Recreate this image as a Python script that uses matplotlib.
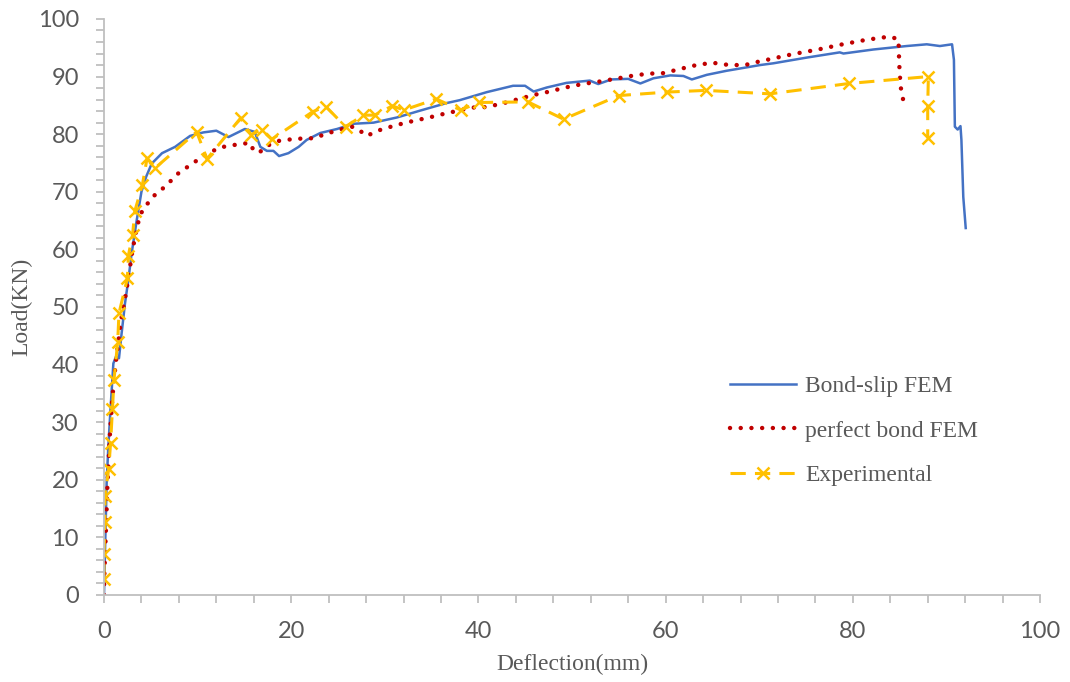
import numpy as np
import matplotlib
matplotlib.use('Agg')
import matplotlib.pyplot as plt
from matplotlib.ticker import MultipleLocator

# Bond-slip FEM (blue solid)
bs_x = [0.0, 0.07, 0.28, 0.46, 0.71, 1.0, 1.28, 1.6, 1.88, 2.24, 2.6, 2.95, 3.5,
        4.0, 4.5, 5.1, 6.2, 7.6, 9.2, 10.6, 12.0, 13.3, 15.05, 16.1, 16.7, 17.4,
        18.1, 18.7, 19.7, 20.8, 21.65, 23.1, 24.9, 26.6, 28.8, 31.3, 33.8, 36.6,
        38.0, 40.9, 43.7, 44.98, 45.9, 47.3, 49.4, 51.9, 52.8, 54.2, 56.0, 57.3,
        58.7, 60.5, 61.9, 62.8, 64.4, 66.5, 67.95, 70.1, 71.5, 75.1, 78.6, 79.0,
        82.2, 85.75, 87.9, 89.3, 90.6, 90.8, 90.9, 91.2, 91.5, 91.6, 91.8, 92.06]
bs_y = [0.0, 4.9, 19.4, 25.7, 32.7, 40.2, 41.4, 41.1, 45.4, 50.6, 54.7, 59.3, 65.1,
        70.0, 72.6, 74.9, 76.7, 77.8, 79.7, 80.3, 80.6, 79.5, 80.9, 80.4, 77.8, 77.1,
        77.1, 76.2, 76.7, 77.8, 79.0, 80.2, 80.9, 81.8, 82.0, 82.9, 84.1, 85.4,
        85.9, 87.3, 88.4, 88.4, 87.4, 88.1, 88.9, 89.3, 88.7, 89.5, 89.6, 88.8,
        89.7, 90.2, 90.1, 89.5, 90.3, 91.0, 91.4, 92.0, 92.3, 93.3, 94.2, 94.0,
        94.7, 95.3, 95.6, 95.3, 95.6, 92.9, 81.3, 80.8, 81.4, 79.0, 69.1, 63.7]

# perfect bond FEM (red dotted)
pb_x = [0.0, 0.02, 0.36, 0.64, 0.9, 1.25, 1.8, 2.4, 3.05, 3.56, 4.1, 5.26, 6.6,
        7.86, 9.26, 10.8, 12.4, 14.2, 15.6, 16.0, 16.6, 17.3, 18.8, 20.6, 22.4,
        24.0, 25.7, 26.6, 27.35, 28.05, 29.6, 31.3, 33.05, 34.75, 36.5, 38.2,
        39.1, 40.8, 42.5, 44.3, 45.9, 47.6, 49.3, 51.1, 52.8, 54.6, 56.3, 58.1,
        59.8, 61.5, 63.3, 65.0, 66.8, 68.5, 69.4, 71.1, 73.6, 76.3, 78.9, 81.5,
        83.3, 84.1, 84.9, 84.9, 85.0, 85.15, 85.5]
pb_y = [0.0, 2.6, 18.8, 28.1, 34.4, 40.2, 47.5, 52.9, 59.9, 64.2, 66.8, 69.2, 71.0,
        73.1, 74.7, 76.4, 77.7, 78.2, 78.5, 77.1, 76.8, 77.9, 78.9, 79.2, 79.3,
        80.2, 81.0, 81.3, 80.6, 79.7, 80.8, 81.6, 82.3, 82.9, 83.6, 84.2,
        84.6, 84.7, 85.3, 86.1, 86.8, 87.4, 88.1, 88.7, 89.1, 89.6, 90.1, 90.5,
        90.6, 91.3, 92.0, 92.4, 92.0, 92.0, 92.4, 93.0, 93.9, 94.7, 95.6, 96.4,
        96.8, 96.9, 96.4, 94.9, 90.6, 87.8, 84.95]

# Experimental (gold dashed with x markers)
ex_x = [0.0, 0.0, 0.1, 0.1, 0.5, 0.7, 0.9, 1.07, 1.46, 1.6, 2.5, 2.6, 3.05, 3.3,
        4.1, 4.6, 5.45, 9.9, 11.0, 14.6, 15.7, 16.85, 17.9, 22.3, 23.7, 25.8,
        27.7, 28.9, 30.8, 32.05, 35.5, 38.1, 40.06, 45.3, 49.1, 55.0, 60.1, 64.3,
        71.15, 79.6, 88.07, 88.0, 88.0]
ex_y = [2.8, 7.2, 12.6, 17.1, 21.9, 26.3, 32.2, 37.4, 43.9, 48.9, 55.0, 58.9, 62.5,
        66.7, 71.2, 75.8, 74.1, 80.4, 75.7, 82.8, 79.9, 80.8, 79.1, 83.9, 84.8, 81.3,
        83.3, 83.3, 84.9, 84.2, 86.1, 84.2, 85.5, 85.6, 82.6, 86.7, 87.3, 87.6,
        87.0, 88.8, 90.0, 84.9, 79.3]

gray = '#595959'
axis_gray = '#BFBFBF'

fig = plt.figure(figsize=(10.7, 6.82), dpi=100)
ax = fig.add_axes([0.0972, 0.1276, 0.8748, 0.8446])

ax.plot(bs_x, bs_y, color='#4472C4', lw=1.8, label='Bond-slip FEM')
ax.plot(pb_x, pb_y, color='#C00000', lw=3.2, linestyle=(0, (0.01, 2.4)),
        dash_capstyle='round', label='perfect bond FEM')
ax.plot(ex_x, ex_y, color='#FFC000', lw=2.2, linestyle=(0, (5, 3)),
        marker='x', markersize=8, markeredgewidth=1.8, label='Experimental')

ax.set_xlim(0, 100)
ax.set_ylim(0, 100)
ax.xaxis.set_major_locator(MultipleLocator(20))
ax.xaxis.set_minor_locator(MultipleLocator(4))
ax.yaxis.set_major_locator(MultipleLocator(10))
ax.yaxis.set_minor_locator(MultipleLocator(2))

for s in ['top', 'right']:
    ax.spines[s].set_visible(False)
for s in ['left', 'bottom']:
    ax.spines[s].set_color(axis_gray)
    ax.spines[s].set_linewidth(1.3)
ax.tick_params(which='both', direction='out', length=6, width=1.3, color=axis_gray)
ax.tick_params(which='major', labelsize=17, labelcolor=gray)
ax.tick_params(axis='x', which='major', pad=13)
ax.tick_params(axis='y', which='major', pad=12)
for lab in ax.get_xticklabels() + ax.get_yticklabels():
    lab.set_family('Lato')

ax.set_xlabel('Deflection(mm)', family='Liberation Serif', fontsize=17,
              color=gray, labelpad=8)
ax.set_ylabel('Load(KN)', family='Liberation Serif', fontsize=17,
              color=gray, labelpad=4)

leg = ax.legend(loc='upper left', bbox_to_anchor=(0.646, 0.418), frameon=False,
                prop={'family': 'Liberation Serif', 'size': 17},
                handlelength=2.8, labelspacing=0.98, handletextpad=0.4)
for t in leg.get_texts():
    t.set_color(gray)

plt.savefig('out.png', dpi=100)
